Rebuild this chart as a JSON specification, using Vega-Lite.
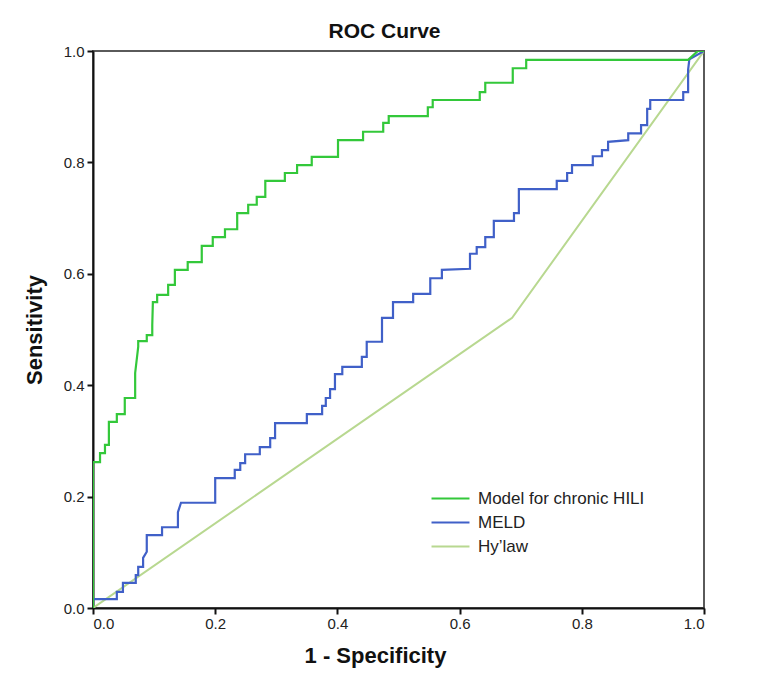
{
  "$schema": "https://vega.github.io/schema/vega-lite/v6.json",
  "autosize": {"type": "none"},
  "width": 611,
  "height": 557,
  "padding": {"left": 93, "top": 51, "right": 59, "bottom": 90},
  "background": "white",
  "title": {"text": "ROC Curve", "font": "Liberation Sans", "fontSize": 21, "fontWeight": "bold", "color": "#111", "offset": 2, "frame": "group", "dx": -14},
  "config": {
    "view": {"stroke": "#5a5a5a", "strokeWidth": 2},
    "axis": {"grid": false, "domainColor": "#111", "domainWidth": 2, "tickColor": "#111", "tickWidth": 2, "tickSize": 6,
      "labelFont": "Liberation Sans", "labelFontSize": 15, "labelColor": "#222", "titleFont": "Liberation Sans", "titleFontSize": 22, "titleFontWeight": "bold", "titleColor": "#111"},
    "legend": {"labelFont": "Liberation Sans", "labelFontSize": 17, "labelColor": "#222", "labelLimit": 400}
  },
  "datasets": {
    "green": [
      {"x":0,"y":0},{"x":0,"y":0.262},{"x":0.0115,"y":0.262},{"x":0.0115,"y":0.278},{"x":0.0196,"y":0.278},{"x":0.0196,"y":0.293},
      {"x":0.026,"y":0.293},{"x":0.026,"y":0.334},{"x":0.039,"y":0.334},{"x":0.039,"y":0.348},{"x":0.052,"y":0.348},{"x":0.052,"y":0.377},
      {"x":0.069,"y":0.377},{"x":0.069,"y":0.422},{"x":0.074,"y":0.469},{"x":0.074,"y":0.479},{"x":0.088,"y":0.479},{"x":0.088,"y":0.49},
      {"x":0.097,"y":0.49},{"x":0.097,"y":0.508},{"x":0.098,"y":0.549},{"x":0.105,"y":0.549},{"x":0.105,"y":0.562},{"x":0.123,"y":0.562},
      {"x":0.123,"y":0.58},{"x":0.134,"y":0.58},{"x":0.134,"y":0.607},{"x":0.155,"y":0.607},{"x":0.155,"y":0.621},{"x":0.178,"y":0.621},
      {"x":0.178,"y":0.65},{"x":0.196,"y":0.65},{"x":0.196,"y":0.666},{"x":0.216,"y":0.666},{"x":0.216,"y":0.68},{"x":0.236,"y":0.68},
      {"x":0.236,"y":0.709},{"x":0.254,"y":0.709},{"x":0.254,"y":0.724},{"x":0.268,"y":0.724},{"x":0.268,"y":0.738},{"x":0.282,"y":0.738},
      {"x":0.282,"y":0.767},{"x":0.314,"y":0.767},{"x":0.314,"y":0.781},{"x":0.334,"y":0.781},{"x":0.334,"y":0.795},{"x":0.358,"y":0.795},
      {"x":0.358,"y":0.81},{"x":0.401,"y":0.81},{"x":0.401,"y":0.84},{"x":0.442,"y":0.84},{"x":0.442,"y":0.855},{"x":0.475,"y":0.855},
      {"x":0.475,"y":0.871},{"x":0.484,"y":0.871},{"x":0.484,"y":0.883},{"x":0.548,"y":0.883},{"x":0.548,"y":0.899},{"x":0.556,"y":0.899},
      {"x":0.556,"y":0.912},{"x":0.633,"y":0.912},{"x":0.633,"y":0.926},{"x":0.642,"y":0.926},{"x":0.642,"y":0.943},{"x":0.687,"y":0.943},
      {"x":0.687,"y":0.969},{"x":0.709,"y":0.969},{"x":0.709,"y":0.984},{"x":0.974,"y":0.984},{"x":0.99,"y":1.0},{"x":1,"y":1}
    ],
    "blue": [
      {"x":0,"y":0},{"x":0,"y":0.016},{"x":0.039,"y":0.016},{"x":0.039,"y":0.029},{"x":0.049,"y":0.029},{"x":0.049,"y":0.045},
      {"x":0.07,"y":0.045},{"x":0.07,"y":0.059},{"x":0.074,"y":0.059},{"x":0.074,"y":0.074},{"x":0.082,"y":0.074},{"x":0.082,"y":0.09},
      {"x":0.088,"y":0.101},{"x":0.088,"y":0.131},{"x":0.113,"y":0.131},{"x":0.113,"y":0.145},{"x":0.139,"y":0.145},{"x":0.139,"y":0.172},
      {"x":0.144,"y":0.189},{"x":0.2,"y":0.189},{"x":0.2,"y":0.233},{"x":0.232,"y":0.233},{"x":0.232,"y":0.248},{"x":0.241,"y":0.248},
      {"x":0.241,"y":0.26},{"x":0.249,"y":0.26},{"x":0.249,"y":0.276},{"x":0.273,"y":0.276},{"x":0.273,"y":0.289},{"x":0.29,"y":0.289},
      {"x":0.29,"y":0.305},{"x":0.298,"y":0.305},{"x":0.298,"y":0.332},{"x":0.35,"y":0.332},{"x":0.35,"y":0.348},{"x":0.375,"y":0.348},
      {"x":0.375,"y":0.363},{"x":0.381,"y":0.363},{"x":0.381,"y":0.377},{"x":0.388,"y":0.377},{"x":0.388,"y":0.393},{"x":0.396,"y":0.393},
      {"x":0.396,"y":0.42},{"x":0.408,"y":0.42},{"x":0.408,"y":0.433},{"x":0.44,"y":0.433},{"x":0.44,"y":0.451},{"x":0.448,"y":0.451},
      {"x":0.448,"y":0.478},{"x":0.473,"y":0.478},{"x":0.473,"y":0.521},{"x":0.491,"y":0.521},{"x":0.491,"y":0.549},{"x":0.524,"y":0.549},
      {"x":0.524,"y":0.564},{"x":0.552,"y":0.564},{"x":0.552,"y":0.592},{"x":0.571,"y":0.592},{"x":0.571,"y":0.607},{"x":0.617,"y":0.609},
      {"x":0.617,"y":0.636},{"x":0.628,"y":0.636},{"x":0.628,"y":0.648},{"x":0.642,"y":0.648},{"x":0.642,"y":0.666},{"x":0.656,"y":0.666},
      {"x":0.656,"y":0.695},{"x":0.689,"y":0.695},{"x":0.689,"y":0.709},{"x":0.697,"y":0.709},{"x":0.697,"y":0.752},{"x":0.759,"y":0.752},
      {"x":0.759,"y":0.767},{"x":0.776,"y":0.767},{"x":0.776,"y":0.781},{"x":0.784,"y":0.781},{"x":0.784,"y":0.795},{"x":0.818,"y":0.795},
      {"x":0.818,"y":0.811},{"x":0.833,"y":0.811},{"x":0.833,"y":0.822},{"x":0.843,"y":0.822},{"x":0.843,"y":0.837},{"x":0.876,"y":0.84},
      {"x":0.876,"y":0.852},{"x":0.897,"y":0.852},{"x":0.897,"y":0.867},{"x":0.907,"y":0.867},{"x":0.907,"y":0.896},{"x":0.912,"y":0.896},
      {"x":0.912,"y":0.912},{"x":0.966,"y":0.912},{"x":0.966,"y":0.926},{"x":0.974,"y":0.926},{"x":0.974,"y":0.966},{"x":0.976,"y":0.985},
      {"x":1,"y":1}
    ],
    "hy": [
      {"x":0,"y":0},{"x":0.686,"y":0.521},{"x":1,"y":1}
    ]
  },
  "encoding": {
    "x": {"field": "x", "type": "quantitative", "scale": {"domain": [0, 1], "nice": false}, "axis": {"title": "1 - Specificity", "format": ".1f", "values": [0, 0.2, 0.4, 0.6, 0.8, 1.0], "labelPadding": 2, "titlePadding": 14, "titleX": 282}},
    "y": {"field": "y", "type": "quantitative", "scale": {"domain": [0, 1], "nice": false}, "axis": {"title": "Sensitivity", "format": ".1f", "values": [0, 0.2, 0.4, 0.6, 0.8, 1.0], "labelPadding": 3, "titlePadding": 17}},
    "order": {"value": null}
  },
  "layer": [
    {"data": {"name": "hy"}, "mark": {"type": "line", "strokeWidth": 2, "clip": true},
      "encoding": {"color": {"datum": "Hy’law"}}},
    {"data": {"name": "blue"}, "mark": {"type": "line", "strokeWidth": 2.2, "clip": true},
      "encoding": {"color": {"datum": "MELD"}}},
    {"data": {"name": "green"}, "mark": {"type": "line", "strokeWidth": 2.2, "clip": true},
      "encoding": {"color": {"datum": "Model for chronic HILI",
        "scale": {"domain": ["Model for chronic HILI", "MELD", "Hy’law"], "range": ["#33c83a", "#4060c8", "#b8d890"]},
        "legend": {"title": null, "orient": "none", "legendX": 344, "legendY": 434, "symbolType": "M-1.55,0H1.55", "symbolSize": 600, "symbolStrokeWidth": 2, "rowPadding": 2, "labelOffset": 14}}}}
  ]
}
